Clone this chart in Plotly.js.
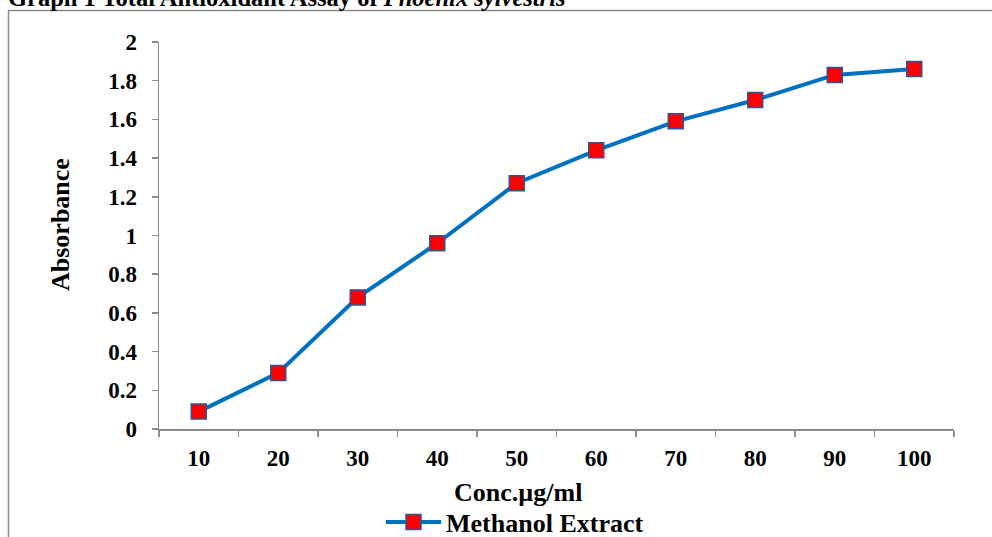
<!DOCTYPE html>
<html>
<head>
<meta charset="utf-8">
<script src="https://cdn.plot.ly/plotly-3.0.1.min.js"></script>
<style>html,body{margin:0;padding:0;background:#fff;}#chart{width:992px;height:537px;}</style>
</head>
<body>
<div id="chart"></div>
<script>
const concentrations = ['10', '20', '30', '40', '50', '60', '70', '80', '90', '100'];
const absorbance = [0.09, 0.29, 0.68, 0.96, 1.27, 1.44, 1.59, 1.70, 1.83, 1.86];
const seriesName = 'Methanol Extract';
const chartTitle = 'Graph 1 Total Antioxidant Assay of <i>Phoenix sylvestris</i>';
const xTitle = 'Conc.µg/ml';
const yTitle = 'Absorbance';

const FONT = '"Times New Roman", "Liberation Serif", serif';
const W = 992, H = 537;
const L = 159, R = 954, T = 42, B = 429;
const px = x => (x - L) / (R - L);
const py = y => (B - y) / (B - T);

const trace = {
  x: concentrations,
  y: absorbance,
  name: seriesName,
  type: 'scatter',
  mode: 'lines+markers',
  line: {color: '#0070C0', width: 4},
  marker: {symbol: 'square', size: 15, color: '#FF0000', line: {color: '#2F5597', width: 1.5}}
};

const layout = {
  width: W, height: H,
  margin: {l: L, r: W - R, t: T, b: H - B, pad: 0},
  paper_bgcolor: '#ffffff',
  plot_bgcolor: '#ffffff',
  font: {family: FONT, color: '#000000'},
  showlegend: true,
  legend: {
    orientation: 'h', xref: 'container', yref: 'container',
    x: 381 / W, y: (H - 522) / H, xanchor: 'left', yanchor: 'middle',
    itemwidth: 55,
    font: {family: FONT, size: 26, color: '#000', weight: 'bold'},
    bgcolor: 'rgba(0,0,0,0)'
  },
  xaxis: {
    type: 'category',
    range: [-0.5, concentrations.length - 0.5],
    tickson: 'boundaries',
    showgrid: false, zeroline: false,
    showline: true, linecolor: '#8c8c8c', linewidth: 1.5,
    ticks: 'outside', ticklen: 6, tickcolor: '#8c8c8c', tickwidth: 1.5,
    ticklabelstandoff: 8,
    tickfont: {family: FONT, size: 23, color: '#000', weight: 'bold'}
  },
  yaxis: {
    range: [0, 2], dtick: 0.2, tick0: 0,
    showgrid: false, zeroline: false,
    showline: true, linecolor: '#8c8c8c', linewidth: 1.5,
    ticks: 'outside', ticklen: 6, tickcolor: '#8c8c8c', tickwidth: 1.5,
    ticklabelstandoff: 10,
    tickfont: {family: FONT, size: 23, color: '#000', weight: 'bold'}
  },
  shapes: [{
    type: 'rect', xref: 'paper', yref: 'paper',
    x0: px(8.5), x1: px(1010), y0: py(580), y1: py(10.5),
    line: {color: '#8a8a8a', width: 1.5}, fillcolor: 'rgba(0,0,0,0)'
  }],
  annotations: [
    {text: chartTitle, xref: 'paper', yref: 'paper', x: px(6), y: py(13), xanchor: 'left', yanchor: 'bottom',
     showarrow: false, font: {family: FONT, size: 24.5, color: '#000', weight: 'bold'}},
    {text: yTitle, xref: 'paper', yref: 'paper', x: px(61), y: py(225), xanchor: 'center', yanchor: 'middle',
     textangle: -90, showarrow: false, font: {family: FONT, size: 26, color: '#000', weight: 'bold'}},
    {text: xTitle, xref: 'paper', yref: 'paper', x: px(518), y: py(492), xanchor: 'center', yanchor: 'middle',
     showarrow: false, font: {family: FONT, size: 26, color: '#000', weight: 'bold'}}
  ]
};

Plotly.newPlot('chart', [trace], layout, {displayModeBar: false, staticPlot: true});
</script>
</body>
</html>
